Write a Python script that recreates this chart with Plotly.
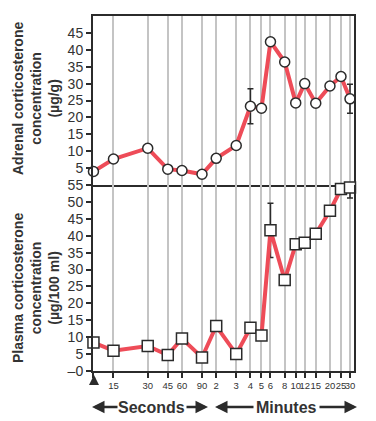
import plotly.graph_objects as go
import math

# ---- data ----
time_labels = ["0", "15", "30", "45", "60", "90", "2", "3", "4", "5", "6", "8", "10", "12", "15", "20", "25", "30"]
time_seconds = [0, 15, 30, 45, 60, 90, 120, 180, 240, 300, 360, 480, 600, 720, 900, 1200, 1500, 1800]

adrenal = [4.0, 7.7, 10.9, 4.7, 4.3, 3.2, 7.9, 11.7, 23.3, 22.7, 42.4, 36.4, 24.3, 30.0, 24.2, 29.3, 32.1, 25.5]
adrenal_err = [None, None, None, None, None, None, None, None, 5.2, None, None, None, None, None, None, None, None, 4.3]

plasma = [8.4, 6.0, 7.4, 4.7, 9.6, 4.0, 13.3, 5.0, 12.8, 10.5, 41.6, 26.9, 37.5, 37.9, 40.6, 47.4, 53.8, 54.3]
plasma_err = [None, None, None, None, None, None, None, None, None, None, 8.0, None, None, None, None, None, None, 3.1]

# ---- styling / layout ----
ZERO_POS = 10  # where time 0 sits on the log axis (left edge)
xpos = [ZERO_POS if t == 0 else t for t in time_seconds]
xticktext = ["" if l == "0" else l for l in time_labels]

LINE_COLOR = "#EE4C58"
DARK = "#2b2b2b"
GRID = "#c4c4c4"
FONT = "Liberation Sans, Arial, sans-serif"

W, H = 376, 421
ML, MR, MT, MB = 93, 22, 16, 50
PW, PH = W - ML - MR, H - MT - MB
XR = [math.log10(ZERO_POS) - 0.004, 3.2905]

top_dom = [55 / 105, 1]
bot_dom = [0, 55 / 105]


def px2paper_x(px):
    return (px - ML) / PW


def px2paper_y(py):
    return (H - MB - py) / PH


def err(vals):
    return [e if e is not None else 0 for e in vals]


fig = go.Figure()

fig.add_trace(go.Scatter(
    x=xpos, y=adrenal, xaxis="x", yaxis="y", mode="lines+markers",
    line=dict(color=LINE_COLOR, width=4),
    marker=dict(symbol="circle", size=10, color="white", line=dict(color=DARK, width=1.5)),
    error_y=dict(type="data", array=err(adrenal_err), visible=True, color=DARK, thickness=1.5, width=3),
    cliponaxis=False, showlegend=False,
))
fig.add_trace(go.Scatter(
    x=xpos, y=plasma, xaxis="x2", yaxis="y2", mode="lines+markers",
    line=dict(color=LINE_COLOR, width=4),
    marker=dict(symbol="square", size=11, color="white", line=dict(color=DARK, width=1.5)),
    error_y=dict(type="data", array=err(plasma_err), visible=True, color=DARK, thickness=1.5, width=3),
    cliponaxis=False, showlegend=False,
))

common_x = dict(
    type="log", range=XR, tickvals=xpos, showgrid=True, gridcolor=GRID, gridwidth=1.5,
    showline=True, linecolor=DARK, linewidth=2, zeroline=False, automargin=False,
)
common_y = dict(
    ticks="outside", ticklen=5, tickwidth=1.5, tickcolor=DARK, showgrid=False, zeroline=False,
    showline=True, linecolor=DARK, linewidth=2, mirror=True, automargin=False,
    tickfont=dict(size=14, color="#333"),
)
fig.update_layout(
    width=W, height=H, autosize=False,
    margin=dict(l=ML, r=MR, t=MT, b=MB),
    paper_bgcolor="white", plot_bgcolor="white",
    font=dict(family=FONT, color=DARK),
    xaxis=dict(**common_x, anchor="y", mirror=True, showticklabels=False, ticks=""),
    xaxis2=dict(**common_x, anchor="y2", mirror=False, ticktext=xticktext, ticks="outside", ticklen=5,
                tickwidth=1.5, tickcolor=DARK, tickangle=0, tickfont=dict(size=9.5, color="#333")),
    yaxis=dict(**common_y, domain=top_dom, range=[0, 50], tickvals=list(range(5, 50, 5)), anchor="x"),
    yaxis2=dict(**common_y, domain=bot_dom, range=[0, 55], tickvals=list(range(0, 60, 5)),
                ticktext=["\u20130"] + [str(v) for v in range(5, 60, 5)], anchor="x2"),
)

annotations = [
    dict(text="<b>Adrenal corticosterone<br>concentration<br>(\u00b5g/g)</b>", textangle=-90,
         x=px2paper_x(36), y=px2paper_y(99), xanchor="center", yanchor="middle",
         font=dict(size=14, color="#333"), showarrow=False),
    dict(text="<b>Plasma corticosterone<br>concentration<br>(\u00b5g/100 ml)</b>", textangle=-90,
         x=px2paper_x(36), y=px2paper_y(288), xanchor="center", yanchor="middle",
         font=dict(size=14, color="#333"), showarrow=False),
    dict(text="<b>Seconds</b>", x=px2paper_x(151), y=px2paper_y(407), xanchor="center",
         yanchor="middle", font=dict(size=16, color="#333"), showarrow=False),
    dict(text="<b>Minutes</b>", x=px2paper_x(286), y=px2paper_y(407), xanchor="center",
         yanchor="middle", font=dict(size=16, color="#333"), showarrow=False),
]
# arrows: (head_x, head_y, tail offset ax, ay, width, size)
arrows = [(92, 407, 27, 0, 2.5, 1.0), (208, 407, -23, 0, 2.5, 1.0), (215, 407, 40, 0, 2.5, 1.0),
          (357, 407, -39, 0, 2.5, 1.0), (94, 375, 0, 10, 2.5, 0.8)]
for hx, hy, ax, ay, aw, asz in arrows:
    annotations.append(dict(text="", x=px2paper_x(hx), y=px2paper_y(hy),
                            showarrow=True, ax=ax, ay=ay, arrowhead=2, arrowsize=asz,
                            arrowwidth=aw, arrowcolor=DARK))
for a in annotations:
    a.setdefault("xref", "paper")
    a.setdefault("yref", "paper")
fig.update_layout(annotations=annotations)

fig.write_html("out.html", config={"displayModeBar": False},
               post_script="document.body.style.margin='0';document.body.style.overflow='hidden';")
